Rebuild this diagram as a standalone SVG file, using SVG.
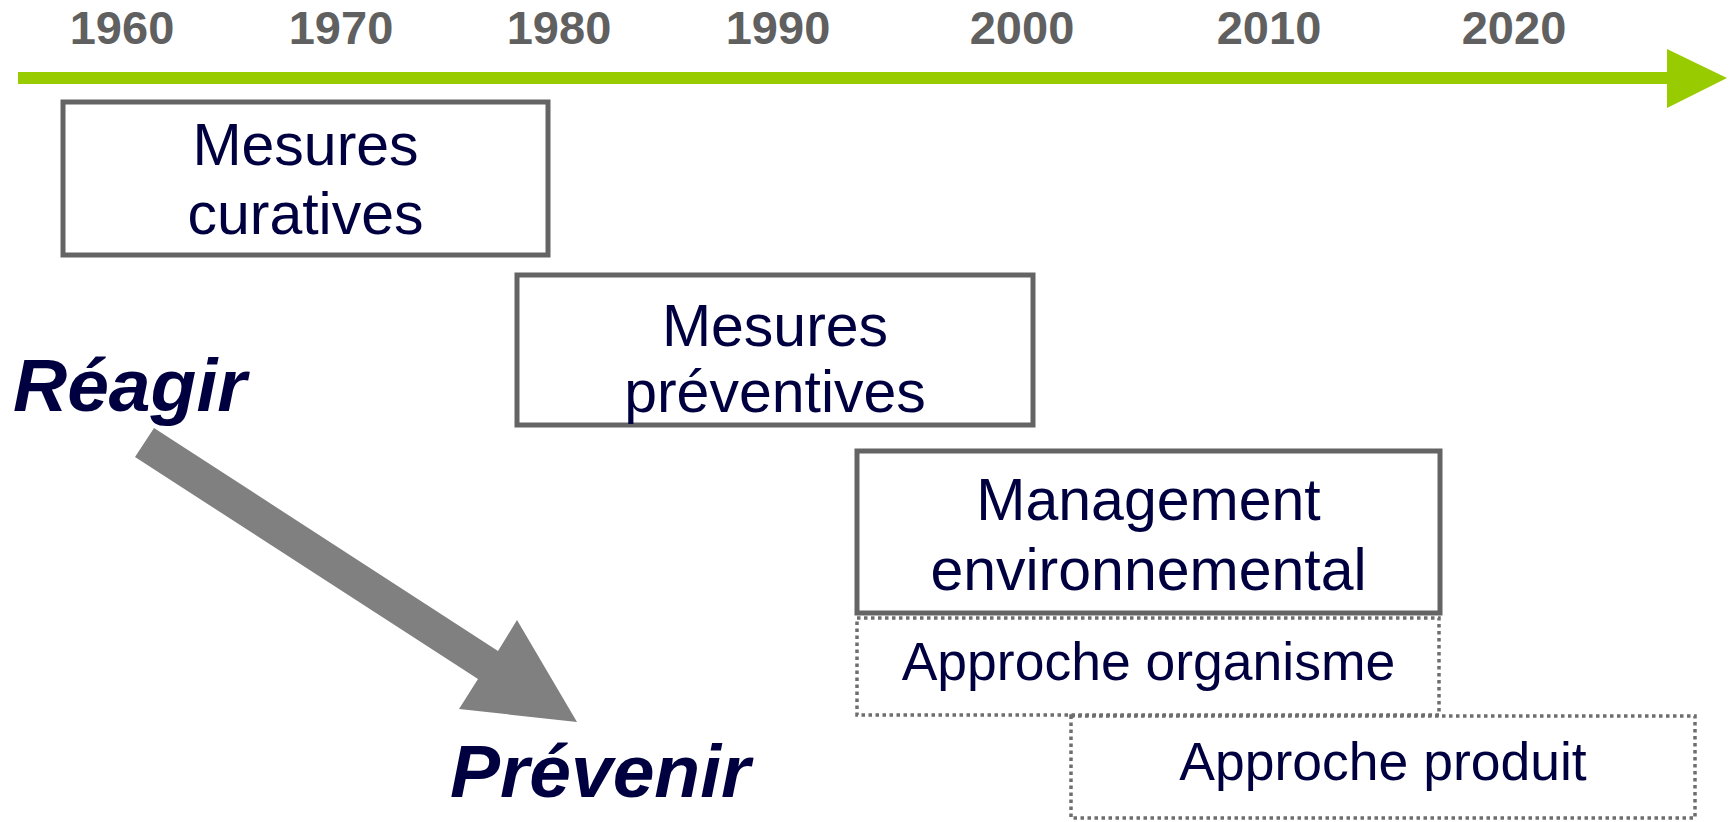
<svg xmlns="http://www.w3.org/2000/svg" width="1730" height="822" viewBox="0 0 1730 822">
  <style>
    .year { font-family: "Liberation Sans", Arial, sans-serif; font-weight: bold; font-size: 47px; fill: #606060; text-anchor: middle; }
    .box { fill: #ffffff; stroke: #646464; stroke-width: 5; }
    .dot { fill: none; stroke: #6e6e6e; stroke-width: 3.5; stroke-dasharray: 3.5 3.5; }
    .lbl { font-family: "Liberation Sans", Arial, sans-serif; font-size: 59px; fill: #000040; text-anchor: middle; }
    .sub { font-family: "Liberation Sans", Arial, sans-serif; font-size: 53.5px; fill: #000040; text-anchor: middle; }
    .big { font-family: "Liberation Sans", Arial, sans-serif; font-size: 75px; font-weight: bold; font-style: italic; fill: #000040; }
  </style>
  <rect width="1730" height="822" fill="#ffffff"/>

  <g id="timeline">
    <rect x="18" y="72" width="1652" height="12" fill="#99CC00"/>
    <polygon points="1667,49 1727,78 1667,108" fill="#99CC00"/>
    <text class="year" x="122" y="44">1960</text>
    <text class="year" x="341" y="44">1970</text>
    <text class="year" x="559" y="44">1980</text>
    <text class="year" x="778" y="44">1990</text>
    <text class="year" x="1022" y="44">2000</text>
    <text class="year" x="1269" y="44">2010</text>
    <text class="year" x="1514" y="44">2020</text>
  </g>

  <g id="curatives">
    <rect class="box" x="63" y="102" width="485" height="153"/>
    <text class="lbl" x="305.5" y="165">Mesures</text>
    <text class="lbl" x="305.5" y="234">curatives</text>
  </g>

  <g id="preventives">
    <rect class="box" x="517" y="275" width="516" height="150"/>
    <text class="lbl" x="775" y="346">Mesures</text>
    <text class="lbl" x="775" y="412">préventives</text>
  </g>

  <g id="management">
    <rect class="box" x="857" y="451" width="583" height="162"/>
    <text class="lbl" x="1148.5" y="520">Management</text>
    <text class="lbl" x="1148.5" y="590">environnemental</text>
  </g>

  <g id="organisme">
    <rect class="dot" x="857" y="618" width="582" height="97"/>
    <text class="sub" x="1148.5" y="680">Approche organisme</text>
  </g>

  <g id="produit">
    <rect class="dot" x="1071" y="716" width="624" height="102"/>
    <text class="sub" x="1383" y="780">Approche produit</text>
  </g>

  <g id="reagir">
    <text class="big" x="13" y="411">Réagir</text>
  </g>

  <g id="prevenir">
    <text class="big" x="450" y="797">Prévenir</text>
  </g>

  <g id="connectors">
    <polygon points="154,428 498,651 517,620 577,722 459,709 478,679 135,457" fill="#808080"/>
  </g>
</svg>
